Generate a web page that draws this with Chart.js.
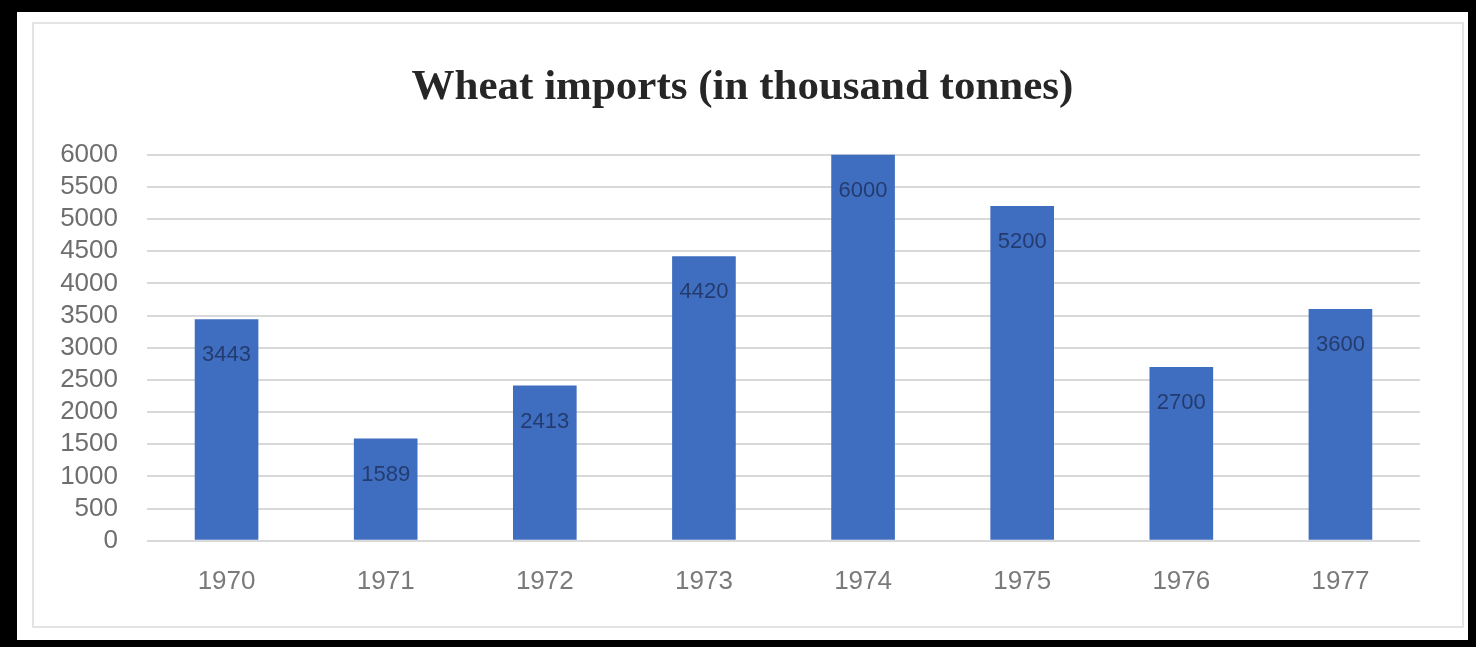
<!DOCTYPE html>
<html>
<head>
<meta charset="utf-8">
<script src="https://cdn.jsdelivr.net/npm/chart.js@4"></script>
<style>
    html, body { margin: 0; padding: 0; background: #000; width: 1476px; height: 647px; overflow: hidden; }
    .card { position: absolute; left: 17px; top: 12px; width: 1451px; height: 628px; background: #fff; }
    .frame { position: absolute; left: 15px; top: 10px; width: 1428px; height: 602px; border: 2px solid #e4e4e4; }
    canvas { position: absolute; left: 0; top: 0; }
</style>
</head>
<body>
<div class="card">
    <div class="frame"></div>
    <canvas id="wheatChart" width="1451" height="628"></canvas>
</div>
<script>
// Data
const years = ['1970', '1971', '1972', '1973', '1974', '1975', '1976', '1977'];
const imports = [3443, 1589, 2413, 4420, 6000, 5200, 2700, 3600];
const yTicks = [0, 500, 1000, 1500, 2000, 2500, 3000, 3500, 4000, 4500, 5000, 5500, 6000];

// Labels inside the top of every bar
const barLabels = {
    id: 'barLabels',
    afterDatasetsDraw(chart) {
        const ctx = chart.ctx;
        const meta = chart.getDatasetMeta(0);
        ctx.save();
        ctx.font = '22px "Liberation Sans", Arial, sans-serif';
        ctx.fillStyle = 'rgba(30, 50, 95, 0.85)';
        ctx.textAlign = 'center';
        ctx.textBaseline = 'middle';
        meta.data.forEach((bar, i) => {
            ctx.fillText(imports[i], bar.x, bar.y + 36);
        });
        ctx.restore();
    }
};

function initChart() {
    const ctx = document.getElementById('wheatChart').getContext('2d');
    new Chart(ctx, {
        type: 'bar',
        data: {
            labels: years,
            datasets: [{
                label: 'Wheat imports',
                data: imports,
                backgroundColor: '#3f6dbf',
                borderWidth: 0,
                barPercentage: 0.8,
                categoryPercentage: 0.5
            }]
        },
        options: {
            responsive: false,
            animation: false,
            layout: {
                padding: { left: 0, right: 0, top: 0, bottom: 26 }
            },
            plugins: {
                legend: { display: false },
                tooltip: { enabled: false },
                title: {
                    display: true,
                    text: 'Wheat imports (in thousand tonnes)',
                    color: '#262626',
                    font: { family: '"Liberation Serif", "Times New Roman", serif', size: 43, weight: 'bold', lineHeight: 1.2 },
                    padding: { top: 50, bottom: 41 }
                }
            },
            scales: {
                x: {
                    grid: { display: false },
                    border: { display: false },
                    ticks: {
                        color: '#7a7a7a',
                        padding: 17,
                        font: { family: '"Liberation Sans", Arial, sans-serif', size: 26 }
                    }
                },
                y: {
                    min: 0,
                    max: 6000,
                    afterBuildTicks: scale => {
                        scale.ticks = yTicks.map(v => ({ value: v }));
                    },
                    afterFit: scale => {
                        scale.width = 130;
                    },
                    grid: {
                        color: '#d9d9d9',
                        lineWidth: 2,
                        drawTicks: false
                    },
                    border: { display: false },
                    ticks: {
                        color: '#6e6e6e',
                        padding: 29,
                        autoSkip: false,
                        callback: value => String(value),
                        font: { family: '"Liberation Sans", Arial, sans-serif', size: 26 }
                    }
                },
                // empty right-hand margin so the title centres like the original
                yRight: {
                    position: 'right',
                    grid: { display: false },
                    border: { display: false },
                    ticks: { display: false },
                    afterFit: scale => {
                        scale.width = 48;
                    }
                }
            }
        },
        plugins: [barLabels]
    });
}

document.addEventListener('DOMContentLoaded', initChart);
</script>
</body>
</html>
